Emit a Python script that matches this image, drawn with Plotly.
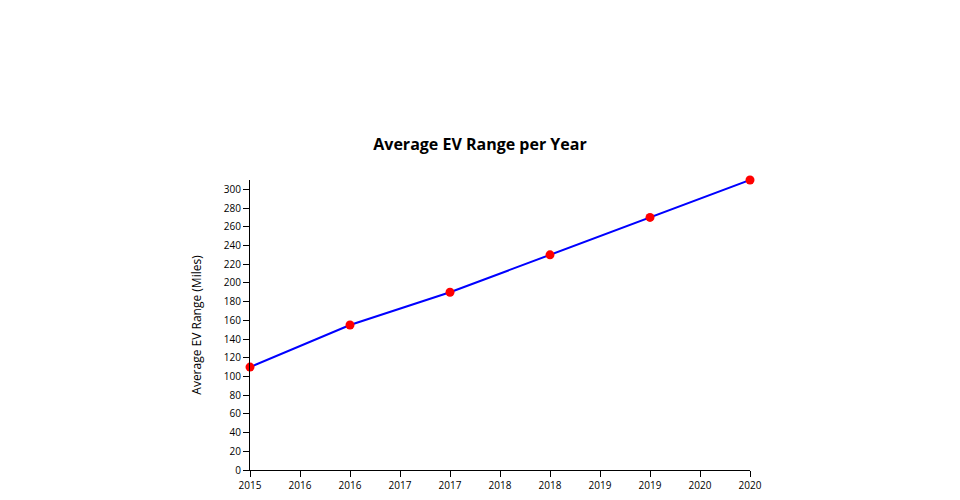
import plotly.graph_objects as go

years = [2015, 2016, 2017, 2018, 2019, 2020]
avg_range = [110, 155, 190, 230, 270, 310]
x_tick_vals = [2015, 2015.5, 2016, 2016.5, 2017, 2017.5, 2018, 2018.5, 2019, 2019.5, 2020]
x_tick_labels = ["2015", "2016", "2016", "2017", "2017", "2018", "2018", "2019", "2019", "2020", "2020"]
y_tick_vals = list(range(0, 301, 20))

fig = go.Figure()
fig.add_trace(go.Scatter(
    x=years, y=avg_range, mode="lines+markers",
    line=dict(color="blue", width=2),
    marker=dict(color="red", size=9),
    cliponaxis=False, showlegend=False,
))

axis_common = dict(
    showgrid=False, zeroline=False, showline=True, linecolor="black", linewidth=1,
    ticks="outside", ticklen=6, tickcolor="black",
    tickfont=dict(family="Open Sans", size=10, color="black"),
)
fig.update_layout(
    width=960, height=500,
    margin=dict(l=242, r=218, t=172, b=38),
    paper_bgcolor="white", plot_bgcolor="white",
    title=dict(text="<b>Average EV Range per Year</b>", x=472 / 960, xanchor="center",
               y=1 - 136 / 500, yref="container", yanchor="middle",
               font=dict(family="Open Sans", size=16, color="black")),
    xaxis=dict(range=[2015, 2020], tickvals=x_tick_vals, ticktext=x_tick_labels, **axis_common),
    yaxis=dict(range=[0, 310], tickvals=y_tick_vals,
               title=dict(text="Average EV Range (Miles)", font=dict(family="Open Sans", size=12, color="black"), standoff=19),
               **axis_common),
    font=dict(family="Open Sans"),
)
fig.write_html("out.html")
